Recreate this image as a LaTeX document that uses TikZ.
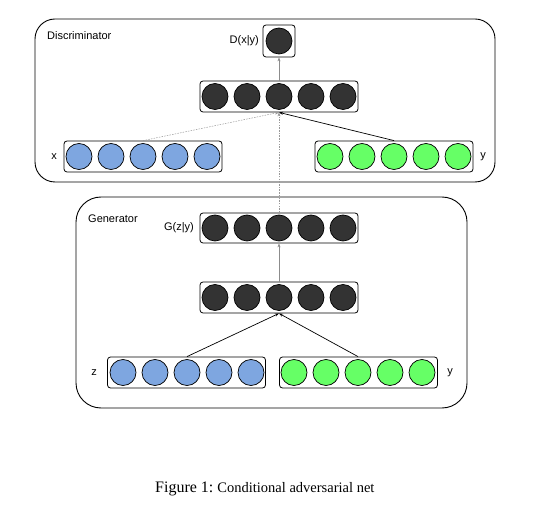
\documentclass[tikz,border=0pt]{standalone}
\usepackage{fontspec}
\setmainfont{Liberation Serif}
\newfontfamily\labelfont{Liberation Sans}
\usetikzlibrary{arrows.meta}
\definecolor{darkn}{HTML}{333333}
\definecolor{bluen}{HTML}{7EA6E0}
\definecolor{greenn}{HTML}{66FF66}
\begin{document}
\begin{tikzpicture}[x=1pt,y=-1pt,
  region/.style={draw, line width=0.9pt, inner sep=0pt},
  layerbox/.style={draw, line width=0.8pt, rounded corners=3pt, minimum width=158pt, minimum height=31pt, inner sep=0pt},
  neuron/.style={circle, draw, line width=0.7pt, minimum size=26pt, inner sep=0pt},
  darkneuron/.style={neuron, fill=darkn},
  blueneuron/.style={neuron, fill=bluen},
  greenneuron/.style={neuron, fill=greenn},
  lbl/.style={font=\labelfont\fontsize{11}{13}\selectfont, inner sep=0pt},
  conn/.style={line width=0.7pt, -{Stealth[length=4pt,width=3pt]}},
  grayconn/.style={line width=0.8pt, draw=gray!90, -{Stealth[length=4pt,width=3pt]}},
  dashconn/.style={line width=0.5pt, draw=gray!80, dash pattern=on 1.5pt off 1.2pt, -{Stealth[length=4pt,width=3pt]}}
]
\useasboundingbox (0,0) rectangle (543,510);

% Regions
\node[region, rounded corners=20pt, minimum width=460pt, minimum height=163pt] (disc) at (265,100.5) {};
\node[lbl, anchor=west] (disclbl) at (47,36) {Discriminator};
\node[region, rounded corners=25pt, minimum width=391pt, minimum height=211pt] (gen) at (271.5,302.5) {};
\node[lbl, anchor=west] (genlbl) at (88,219) {Generator};

% Discriminator output
\node[layerbox, minimum width=32pt, minimum height=32pt] (dout) at (279,41) {};
\node[darkneuron] (do1) at (279,41) {};
\node[lbl, anchor=east] (doutlbl) at (259,41) {D(x|y)};

% Discriminator hidden
\node[layerbox] (dhid) at (279,96.5) {};
\foreach \i/\xx in {1/215,2/247,3/279,4/311,5/343}
  \node[darkneuron] (dh\i) at (\xx,96.5) {};

% x input
\node[layerbox] (xin) at (143,156.5) {};
\foreach \i/\xx in {1/79,2/111,3/143,4/175,5/207}
  \node[blueneuron] (x\i) at (\xx,156.5) {};
\node[lbl] (xlbl) at (54,157) {x};

% y input (discriminator)
\node[layerbox] (ydin) at (394,156.5) {};
\foreach \i/\xx in {1/330,2/362,3/394,4/426,5/458}
  \node[greenneuron] (yd\i) at (\xx,156.5) {};
\node[lbl] (ydlbl) at (483,157) {y};

% Generator output
\node[layerbox, minimum height=30pt] (gout) at (279,228) {};
\foreach \i/\xx in {1/215,2/247,3/279,4/311,5/343}
  \node[darkneuron] (go\i) at (\xx,228) {};
\node[lbl, anchor=east] (goutlbl) at (194,228) {G(z|y)};

% Generator hidden
\node[layerbox] (ghid) at (279,297.5) {};
\foreach \i/\xx in {1/215,2/247,3/279,4/311,5/343}
  \node[darkneuron] (gh\i) at (\xx,297.5) {};

% z input
\node[layerbox] (zin) at (186.5,372.5) {};
\foreach \i/\xx in {1/123,2/155,3/187,4/219,5/251}
  \node[blueneuron] (z\i) at (\xx,372.5) {};
\node[lbl] (zlbl) at (94,373) {z};

% y input (generator)
\node[layerbox] (ygin) at (358.5,372.5) {};
\foreach \i/\xx in {1/294,2/326,3/358,4/390,5/422}
  \node[greenneuron] (yg\i) at (\xx,372.5) {};
\node[lbl] (yglbl) at (450,373) {y};

% Connectors
\draw[grayconn] (dhid.north) -- (dout.south);
\draw[dashconn] (x3 |- xin.north) -- (dhid.south);
\draw[conn] (yd3 |- ydin.north) -- (dhid.south);
\draw[dashconn] (gout.north) -- (dhid.south);
\draw[grayconn] (ghid.north) -- (gout.south);
\draw[conn] (z3 |- zin.north) -- (ghid.south);
\draw[conn] (yg3 |- ygin.north) -- (ghid.south);

% Caption
\node[anchor=base west, inner sep=0pt] (caption) at (155,492)
  {\fontsize{16}{18}\selectfont Figure 1:\ \fontsize{14.5}{17}\selectfont Conditional adversarial net};
\end{tikzpicture}
\end{document}
